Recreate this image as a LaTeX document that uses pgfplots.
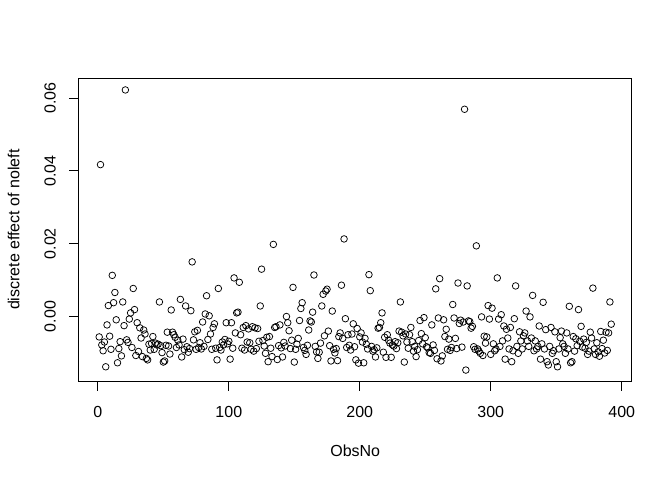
\documentclass[border=0pt]{standalone}
\usepackage{fontspec}
\setmainfont{Liberation Sans}
\usepackage{pgfplots}
\pgfplotsset{compat=1.18}
\usepackage{pgfplotstable}
\pgfplotstableread{
x y
1 -0.0056
2 0.0417
3 -0.0078
4 -0.0094
5 -0.0070
6 -0.0138
7 -0.0023
8 0.0030
9 -0.0054
10 -0.0090
11 0.0113
12 0.0038
13 0.0066
14 -0.0009
15 -0.0127
16 -0.0088
17 -0.0069
18 -0.0108
19 0.0040
20 -0.0025
21 0.0622
22 -0.0064
23 -0.0071
24 -0.0007
25 0.0010
26 -0.0085
27 0.0077
28 0.0019
29 -0.0107
30 -0.0017
31 -0.0096
32 -0.0031
33 -0.0059
34 -0.0110
35 -0.0037
36 -0.0048
37 -0.0115
38 -0.0119
39 -0.0076
40 -0.0092
41 -0.0074
42 -0.0055
43 -0.0090
44 -0.0073
45 -0.0078
46 -0.0076
47 0.0040
48 -0.0080
49 -0.0099
50 -0.0125
51 -0.0122
52 -0.0079
53 -0.0043
54 -0.0081
55 -0.0103
56 0.0018
57 -0.0043
58 -0.0050
59 -0.0057
60 -0.0085
61 -0.0065
62 -0.0078
63 0.0047
64 -0.0111
65 -0.0062
66 -0.0091
67 0.0029
68 -0.0083
69 -0.0098
70 -0.0088
71 0.0016
72 0.0150
73 -0.0064
74 -0.0042
75 -0.0090
76 -0.0038
77 -0.0085
78 -0.0072
79 -0.0089
80 -0.0015
81 -0.0082
82 0.0007
83 0.0057
84 -0.0063
85 0.0002
86 -0.0048
87 -0.0090
88 -0.0030
89 -0.0020
90 -0.0087
91 -0.0119
92 0.0077
93 -0.0085
94 -0.0092
95 -0.0070
96 -0.0078
97 -0.0063
98 -0.0017
99 -0.0075
100 -0.0068
101 -0.0117
102 -0.0017
103 -0.0087
104 0.0106
105 -0.0045
106 0.0010
107 0.0012
108 0.0094
109 -0.0050
110 -0.0087
111 -0.0030
112 -0.0092
113 -0.0025
114 -0.0070
115 -0.0034
116 -0.0072
117 -0.0090
118 -0.0028
119 -0.0095
120 -0.0031
121 -0.0088
122 -0.0033
123 -0.0068
124 0.0029
125 0.0130
126 -0.0066
127 -0.0081
128 -0.0101
129 -0.0057
130 -0.0124
131 -0.0055
132 -0.0087
133 -0.0110
134 0.0198
135 -0.0030
136 -0.0028
137 -0.0118
138 -0.0080
139 -0.0023
140 -0.0086
141 -0.0111
142 -0.0071
143 -0.0081
144 0.0000
145 -0.0017
146 -0.0039
147 -0.0088
148 -0.0065
149 0.0080
150 -0.0125
151 -0.0090
152 -0.0076
153 -0.0060
154 -0.0011
155 0.0022
156 0.0038
157 -0.0085
158 -0.0093
159 -0.0104
160 -0.0079
161 -0.0037
162 -0.0012
163 -0.0015
164 0.0012
165 0.0114
166 -0.0082
167 -0.0097
168 -0.0115
169 -0.0098
170 -0.0073
171 0.0029
172 0.0061
173 -0.0053
174 0.0070
175 0.0075
176 -0.0040
177 -0.0080
178 -0.0122
179 0.0015
180 -0.0090
181 -0.0100
182 -0.0088
183 -0.0121
184 -0.0055
185 -0.0045
186 0.0086
187 -0.0060
188 0.0213
189 -0.0006
190 -0.0085
191 -0.0050
192 -0.0079
193 -0.0092
194 -0.0048
195 -0.0020
196 -0.0083
197 -0.0119
198 -0.0033
199 -0.0128
200 -0.0056
201 -0.0045
202 -0.0070
203 -0.0127
204 -0.0060
205 -0.0076
206 -0.0089
207 0.0115
208 0.0071
209 -0.0082
210 -0.0095
211 -0.0091
212 -0.0111
213 -0.0086
214 -0.0032
215 -0.0030
216 -0.0017
217 0.0010
218 -0.0098
219 -0.0057
220 -0.0112
221 -0.0050
222 -0.0065
223 -0.0073
224 -0.0112
225 -0.0078
226 -0.0081
227 -0.0069
228 -0.0088
229 -0.0072
230 -0.0040
231 0.0040
232 -0.0043
233 -0.0053
234 -0.0125
235 -0.0048
236 -0.0070
237 -0.0087
238 -0.0050
239 -0.0030
240 -0.0069
241 -0.0095
242 -0.0082
243 -0.0110
244 -0.0091
245 -0.0066
246 -0.0011
247 -0.0047
248 -0.0075
249 -0.0003
250 -0.0058
251 -0.0083
252 -0.0086
253 -0.0099
254 -0.0101
255 -0.0023
256 -0.0078
257 -0.0093
258 0.0076
259 -0.0116
260 -0.0004
261 0.0104
262 -0.0122
263 -0.0108
264 -0.0009
265 -0.0055
266 -0.0035
267 -0.0090
268 -0.0062
269 -0.0093
270 -0.0085
271 0.0033
272 -0.0004
273 -0.0060
274 -0.0088
275 0.0092
276 -0.0019
277 -0.0010
278 -0.0084
279 -0.0015
280 0.0569
281 -0.0147
282 0.0084
283 -0.0012
284 -0.0014
285 -0.0032
286 -0.0027
287 -0.0083
288 -0.0090
289 0.0194
290 -0.0089
291 -0.0095
292 -0.0101
293 -0.0001
294 -0.0107
295 -0.0054
296 -0.0073
297 -0.0056
298 0.0030
299 -0.0007
300 -0.0104
301 0.0023
302 -0.0075
303 -0.0094
304 -0.0089
305 0.0106
306 -0.0007
307 -0.0082
308 0.0005
309 -0.0067
310 -0.0026
311 -0.0117
312 -0.0035
313 -0.0059
314 -0.0089
315 -0.0030
316 -0.0124
317 -0.0094
318 -0.0006
319 0.0084
320 -0.0082
321 -0.0101
322 -0.0042
323 -0.0067
324 -0.0089
325 -0.0053
326 -0.0045
327 0.0015
328 -0.0067
329 -0.0082
330 -0.0001
331 -0.0059
332 0.0058
333 -0.0094
334 -0.0067
335 -0.0089
336 -0.0082
337 -0.0026
338 -0.0117
339 -0.0075
340 0.0039
341 -0.0089
342 -0.0036
343 -0.0124
344 -0.0133
345 -0.0082
346 -0.0030
347 -0.0101
348 -0.0094
349 -0.0042
350 -0.0124
351 -0.0138
352 -0.0089
353 -0.0058
354 -0.0040
355 -0.0075
356 -0.0082
357 -0.0101
358 -0.0045
359 -0.0089
360 0.0028
361 -0.0127
362 -0.0124
363 -0.0055
364 -0.0095
365 -0.0061
366 -0.0080
367 0.0019
368 -0.0068
369 -0.0027
370 -0.0084
371 -0.0062
372 -0.0087
373 -0.0071
374 -0.0104
375 -0.0095
376 -0.0043
377 -0.0059
378 0.0078
379 -0.0089
380 -0.0104
381 -0.0072
382 -0.0097
383 -0.0109
384 -0.0041
385 -0.0088
386 -0.0065
387 -0.0100
388 -0.0043
389 -0.0093
390 -0.0045
391 0.0040
392 -0.0021
}\obsdata
\begin{document}
\begin{tikzpicture}
\begin{axis}[
  at={(0,0)}, anchor=south west,
  scale only axis, width=553bp, height=302.7bp,
  xmin=-14.64, xmax=407.64, ymin=-0.0177, ymax=0.0654,
  xtick={0,100,200,300,400},
  ytick={0,0.02,0.04,0.06},
  scaled y ticks=false,
  tick pos=left, tick align=outside,
  major tick length=9.6bp,
  every tick/.style={black, line width=0.75pt},
  axis line style={line width=0.75pt},
  /pgf/number format/assume math mode=true,
  tick label style={font=\fontsize{16bp}{19bp}\selectfont, inner sep=0pt},
  xticklabel style={anchor=north, yshift=-16bp},
  yticklabel style={xshift=-13bp, rotate=90, anchor=south,
    /pgf/number format/.cd, fixed, fixed zerofill, precision=2},
]
\addplot[only marks, mark=o, mark size=3.3bp, mark options={line width=0.75pt, black}] table[x=x, y=y] {\obsdata};
\end{axis}
\node[font=\fontsize{16bp}{19bp}\selectfont, anchor=north, inner sep=0pt] at (276.5bp,-64bp) {ObsNo};
\node[font=\fontsize{16bp}{19bp}\selectfont, rotate=90, anchor=south, inner sep=0pt] at (-59bp,151.35bp) {discrete effect of noleft};
\pgfresetboundingbox
\useasboundingbox (-78.7bp,-99bp) rectangle (593.3bp,381bp);
\end{tikzpicture}
\end{document}
